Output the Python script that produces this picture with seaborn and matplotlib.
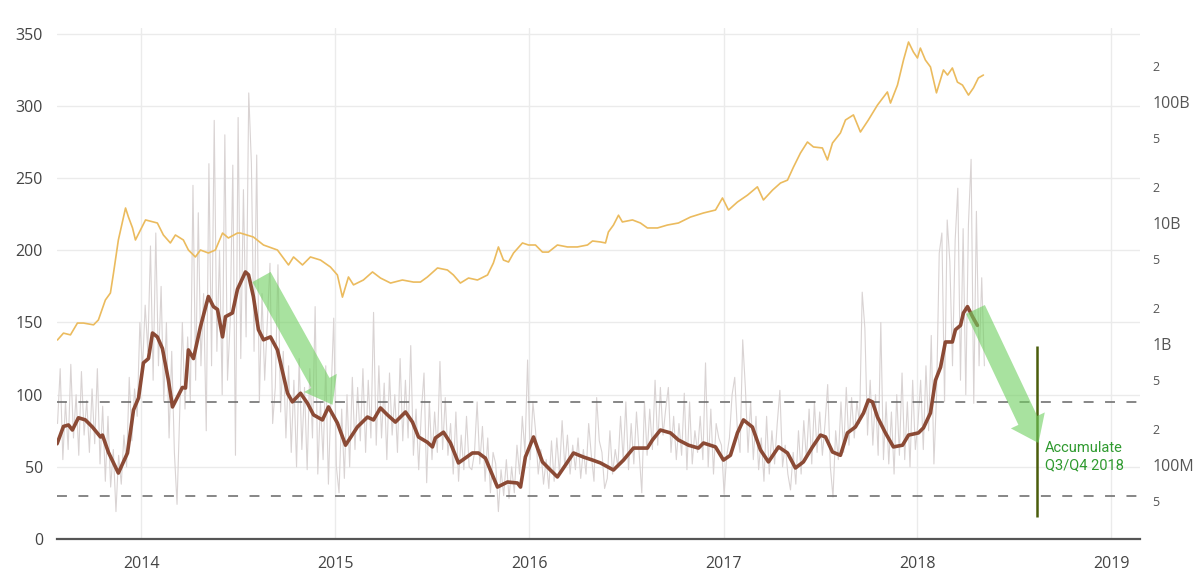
import numpy as np
import pandas as pd
import matplotlib
matplotlib.use('Agg')
import matplotlib.pyplot as plt
import matplotlib.dates as mdates
import matplotlib.ticker as mticker
import seaborn as sns

# --- Data ---
# daily ratio (grey), one value every 5 days starting 2013-07-27
grey_start = '2013-07-27'
grey_vals = [
    80, 118, 55, 95, 62, 121, 70, 100, 58, 116, 72, 96,
    60, 104, 66, 118, 52, 92, 40, 85, 36, 62, 19, 58,
    38, 72, 50, 112, 68, 104, 85, 150, 118, 162, 130, 203,
    110, 212, 120, 175, 95, 150, 70, 130, 60, 24, 88, 150,
    90, 140, 95, 245, 110, 226, 120, 170, 75, 260, 120, 290,
    130, 200, 100, 280, 110, 150, 259, 58, 292, 125, 242, 140,
    309, 260, 130, 266, 95, 170, 110, 150, 191, 80, 105, 190,
    88, 130, 70, 120, 60, 110, 50, 125, 62, 105, 48, 118,
    70, 161, 45, 95, 55, 120, 38, 100, 153, 50, 32, 90,
    42, 100, 50, 112, 62, 105, 68, 118, 60, 110, 70, 157,
    65, 120, 70, 108, 55, 115, 72, 100, 60, 125, 68, 110,
    70, 134, 58, 90, 48, 88, 115, 39, 95, 55, 88, 60,
    123, 62, 98, 58, 80, 45, 88, 40, 72, 48, 85, 50,
    48, 60, 95, 52, 78, 40, 70, 32, 60, 52, 19, 48,
    30, 55, 28, 50, 32, 65, 45, 85, 60, 124, 55, 95,
    75, 45, 62, 38, 55, 35, 68, 40, 70, 45, 82, 50,
    72, 45, 65, 48, 70, 42, 62, 45, 80, 58, 40, 98,
    68, 60, 35, 42, 75, 45, 62, 50, 85, 55, 95, 48,
    80, 52, 88, 60, 32, 95, 58, 90, 62, 110, 65, 105,
    72, 90, 105, 60, 85, 55, 80, 58, 101, 48, 95, 52,
    75, 60, 85, 55, 122, 50, 90, 45, 80, 70, 65, 31,
    58, 70, 100, 112, 75, 60, 138, 105, 60, 95, 55, 85,
    48, 70, 40, 85, 45, 75, 52, 80, 103, 50, 65, 45,
    34, 60, 38, 75, 45, 82, 55, 90, 52, 95, 60, 88,
    58, 80, 107, 50, 29, 75, 55, 95, 60, 105, 65, 98,
    70, 95, 80, 171, 146, 72, 110, 65, 100, 58, 150, 55,
    95, 52, 88, 45, 100, 58, 115, 55, 95, 50, 110, 62,
    80, 110, 62, 120, 75, 141, 52, 100, 198, 212, 95, 221,
    192, 120, 207, 243, 110, 215, 100, 218, 263, 94, 227, 120,
    181, 120,
]

# moving average (brown): decimal year and value
ma_years = [
    2013.565, 2013.598, 2013.624, 2013.644, 2013.675, 2013.711, 2013.747, 2013.789,
    2013.799, 2013.830, 2013.881, 2013.928, 2013.959, 2013.985, 2014.010, 2014.036,
    2014.057, 2014.082, 2014.108, 2014.139, 2014.160, 2014.186, 2014.211, 2014.227,
    2014.242, 2014.268, 2014.304, 2014.345, 2014.371, 2014.392, 2014.418, 2014.433,
    2014.469, 2014.495, 2014.536, 2014.552, 2014.577, 2014.603, 2014.629, 2014.665,
    2014.701, 2014.753, 2014.778, 2014.820, 2014.856, 2014.887, 2014.933, 2014.964,
    2015.010, 2015.052, 2015.113, 2015.165, 2015.196, 2015.232, 2015.268, 2015.309,
    2015.361, 2015.397, 2015.428, 2015.474, 2015.500, 2015.515, 2015.557, 2015.593,
    2015.634, 2015.706, 2015.737, 2015.773, 2015.835, 2015.887, 2015.938, 2015.954,
    2015.979, 2016.021, 2016.067, 2016.108, 2016.144, 2016.186, 2016.227, 2016.278,
    2016.325, 2016.366, 2016.433, 2016.485, 2016.536, 2016.608, 2016.634, 2016.675,
    2016.727, 2016.768, 2016.820, 2016.871, 2016.897, 2016.959, 2017.000, 2017.036,
    2017.072, 2017.103, 2017.149, 2017.191, 2017.232, 2017.284, 2017.330, 2017.371,
    2017.412, 2017.459, 2017.500, 2017.526, 2017.562, 2017.603, 2017.639, 2017.680,
    2017.722, 2017.747, 2017.768, 2017.794, 2017.835, 2017.876, 2017.923, 2017.954,
    2018.005, 2018.031, 2018.067, 2018.093, 2018.119, 2018.144, 2018.180, 2018.196,
    2018.222, 2018.237, 2018.258, 2018.284, 2018.309,
]
ma_vals = [
    66, 78, 79, 75.5, 84, 82.5, 77.6, 70.7,
    72, 60, 45.7, 59.6, 89.4, 97.7, 122, 125,
    142.7, 140, 132, 110, 91.5, 98.4, 105, 104.6,
    131, 125, 147, 168, 161, 159, 140, 154,
    156.6, 173, 185, 183, 168, 145, 138, 140,
    131, 101, 95, 101, 94, 86, 82.5, 91.5,
    80.4, 65, 77.6, 84.5, 82.5, 90.8, 86, 81,
    88, 81, 70.7, 67, 63.8, 70, 74, 66.5,
    52.7, 59.6, 59.6, 56, 36, 39.5, 38.8, 36,
    56.8, 70.7, 53.4, 47.8, 43, 51.3, 59.6, 56.8,
    54.7, 52.7, 47.8, 54.7, 63, 63, 68.6, 75.5,
    73.5, 68.6, 65, 63, 66.5, 63.8, 54.7, 58,
    73.5, 82.5, 77.6, 61.7, 53.4, 63.8, 59.6, 49.2,
    53.4, 63.8, 72, 70.7, 60.3, 58, 73.5, 77.6,
    87.3, 96.3, 95, 84.5, 73.5, 63.8, 65, 72,
    73.5, 77, 87.3, 110, 119, 136.5, 136.5, 145,
    148, 156.6, 161, 154, 148,
]

# market cap (gold, right log axis), decimal year and value in USD billions
cap_years = [
    2013.567, 2013.598, 2013.634, 2013.670, 2013.701, 2013.753, 2013.778, 2013.814,
    2013.840, 2013.856, 2013.881, 2013.918, 2013.933, 2013.954, 2013.969, 2014.021,
    2014.082, 2014.113, 2014.149, 2014.175, 2014.216, 2014.242, 2014.278, 2014.304,
    2014.345, 2014.381, 2014.418, 2014.448, 2014.495, 2014.510, 2014.577, 2014.629,
    2014.701, 2014.758, 2014.784, 2014.830, 2014.871, 2014.923, 2014.974, 2015.010,
    2015.036, 2015.067, 2015.093, 2015.144, 2015.191, 2015.232, 2015.284, 2015.345,
    2015.402, 2015.438, 2015.474, 2015.526, 2015.577, 2015.608, 2015.644, 2015.686,
    2015.732, 2015.784, 2015.814, 2015.840, 2015.866, 2015.892, 2015.918, 2015.964,
    2015.995, 2016.031, 2016.067, 2016.098, 2016.144, 2016.196, 2016.247, 2016.299,
    2016.325, 2016.366, 2016.392, 2016.407, 2016.433, 2016.459, 2016.479, 2016.531,
    2016.572, 2016.608, 2016.660, 2016.711, 2016.768, 2016.830, 2016.897, 2016.959,
    2016.995, 2017.026, 2017.072, 2017.124, 2017.175, 2017.206, 2017.253, 2017.294,
    2017.330, 2017.361, 2017.397, 2017.433, 2017.464, 2017.510, 2017.536, 2017.562,
    2017.603, 2017.629, 2017.670, 2017.706, 2017.747, 2017.794, 2017.845, 2017.861,
    2017.897, 2017.928, 2017.954, 2017.979, 2018.000, 2018.015, 2018.041, 2018.067,
    2018.098, 2018.134, 2018.155, 2018.180, 2018.206, 2018.232, 2018.263, 2018.289,
    2018.314, 2018.340,
]
cap_bn = [
    1.08, 1.23, 1.19, 1.49, 1.49, 1.44, 1.58, 2.31,
    2.64, 3.86, 7.24, 13.3, 11.2, 9.1, 7.24, 10.6,
    10.0, 7.96, 6.84, 7.96, 7.24, 5.98, 5.24, 5.98,
    5.65, 5.98, 8.26, 7.52, 8.26, 8.26, 7.66, 6.58,
    5.98, 4.50, 5.24, 4.50, 5.24, 4.94, 4.33, 3.72,
    2.44, 3.58, 3.08, 3.38, 3.94, 3.51, 3.19, 3.38,
    3.25, 3.25, 3.58, 4.25, 4.09, 3.72, 3.19, 3.51,
    3.38, 3.72, 4.67, 6.34, 4.94, 4.76, 5.65, 6.84,
    6.58, 6.58, 5.75, 5.75, 6.58, 6.34, 6.34, 6.58,
    7.10, 6.97, 6.84, 8.43, 9.62, 11.6, 10.2, 10.6,
    10.0, 9.10, 9.10, 9.62, 10.0, 11.2, 12.1, 12.8,
    16.1, 12.8, 14.9, 17.0, 19.9, 15.5, 18.7, 21.4,
    22.6, 29.0, 37.9, 46.7, 42.5, 41.7, 33.2, 45.8,
    55.5, 71.0, 78.2, 56.5, 71.0, 94.4, 121, 98,
    138, 222, 313, 259, 231, 279, 222, 195,
    119, 184, 167, 191, 146, 138, 114, 131,
    158, 167,
]

band_levels = [95, 30]
left_ticks = [0, 50, 100, 150, 200, 250, 300, 350]
cap_ticks = [0.05, 0.1, 0.2, 0.5, 1, 2, 5, 10, 20, 50, 100, 200]
cap_labels = ['5', '100M', '2', '5', '1B', '2', '5', '10B', '2', '5', '100B', '2']
accumulate_date = '2018-08-15'
accumulate_range = (15, 134)
note_text = 'Accumulate\nQ3/Q4 2018'


def years_to_dates(years):
    years = np.asarray(years, dtype=float)
    return pd.Timestamp('2014-01-01') + pd.to_timedelta((years - 2014) * 365.25, unit='D')


grey_df = pd.DataFrame({
    'date': pd.date_range(grey_start, periods=len(grey_vals), freq='5D'),
    'value': grey_vals,
})
ma_df = pd.DataFrame({'date': years_to_dates(ma_years), 'value': ma_vals})
cap_df = pd.DataFrame({'date': years_to_dates(cap_years), 'cap': cap_bn})

# --- Plot ---
sns.set_theme(style='white')
plt.rcParams['font.family'] = ['Open Sans', 'DejaVu Sans']

fig = plt.figure(figsize=(12, 5.76), dpi=100)
ax = fig.add_axes([0.0475, 0.0642, 0.9025, 0.8872])
ax2 = ax.twinx()

sns.lineplot(data=grey_df, x='date', y='value', ax=ax, color='#d9d3d3',
             lw=0.8, estimator=None, zorder=2)
sns.lineplot(data=ma_df, x='date', y='value', ax=ax, color='#8b4a35',
             lw=2.6, estimator=None, zorder=3)
sns.lineplot(data=cap_df, x='date', y='cap', ax=ax2, color='#ebbb5e',
             lw=1.2, estimator=None)

for lvl in band_levels:
    ax.axhline(lvl, color='#666666', lw=1.1, dashes=(6.5, 7.5), zorder=2.5)

ax.vlines(pd.Timestamp(accumulate_date), *accumulate_range, color='#4b5d0c', lw=1.8, zorder=4)
ax.text(pd.Timestamp('2018-08-29'), 57, note_text, color='#2f9a2f', fontsize=10.5,
        va='center', ha='left', family=['Roboto', 'DejaVu Sans'], linespacing=1.3)

# green trend arrows
arrow_style = 'simple,head_length=1.8,head_width=2.7,tail_width=1.5'
for tail, head in [((2014.619, 181.5), (2014.985, 93)),
                   ((2018.299, 159), (2018.624, 66.5))]:
    ax.annotate('', xy=(mdates.date2num(years_to_dates([head[0]])[0]), head[1]),
                xytext=(mdates.date2num(years_to_dates([tail[0]])[0]), tail[1]),
                arrowprops=dict(arrowstyle=arrow_style, color='#6fcf5f', alpha=0.6,
                                lw=0, shrinkA=0, shrinkB=0, mutation_scale=10),
                zorder=5)

# axes styling
ax.set_xlim(pd.Timestamp('2013-07-26'), pd.Timestamp('2019-02-24'))
ax.set_ylim(0, 354)
ax.set_yticks(left_ticks)
ax.xaxis.set_major_locator(mdates.YearLocator())
ax.xaxis.set_major_formatter(mdates.DateFormatter('%Y'))
ax.grid(True, color='#ebebeb', lw=1)
ax.set_xlabel('')
ax.set_ylabel('')
ax.tick_params(axis='both', length=0, labelsize=11.5, labelcolor='#444444')
ax.tick_params(axis='y', pad=10)
ax.tick_params(axis='x', pad=12)
for side in ['top', 'left', 'right']:
    ax.spines[side].set_visible(False)
ax.spines['bottom'].set_color('#555555')
ax.spines['bottom'].set_linewidth(1.6)

ax2.set_yscale('log')
ax2.set_ylim(0.02446, 408.8)
ax2.yaxis.set_major_locator(mticker.FixedLocator(cap_ticks))
ax2.yaxis.set_minor_locator(mticker.NullLocator())
ax2.set_yticklabels(cap_labels)
ax2.set_ylabel('')
ax2.grid(False)
ax2.tick_params(axis='y', length=0, pad=9, labelcolor='#555555')
for lab in ax2.get_yticklabels():
    lab.set_fontsize(11.5 if lab.get_text() not in ('2', '5') else 9)
for side in ax2.spines:
    ax2.spines[side].set_visible(False)

fig.savefig('out.png', dpi=100)
